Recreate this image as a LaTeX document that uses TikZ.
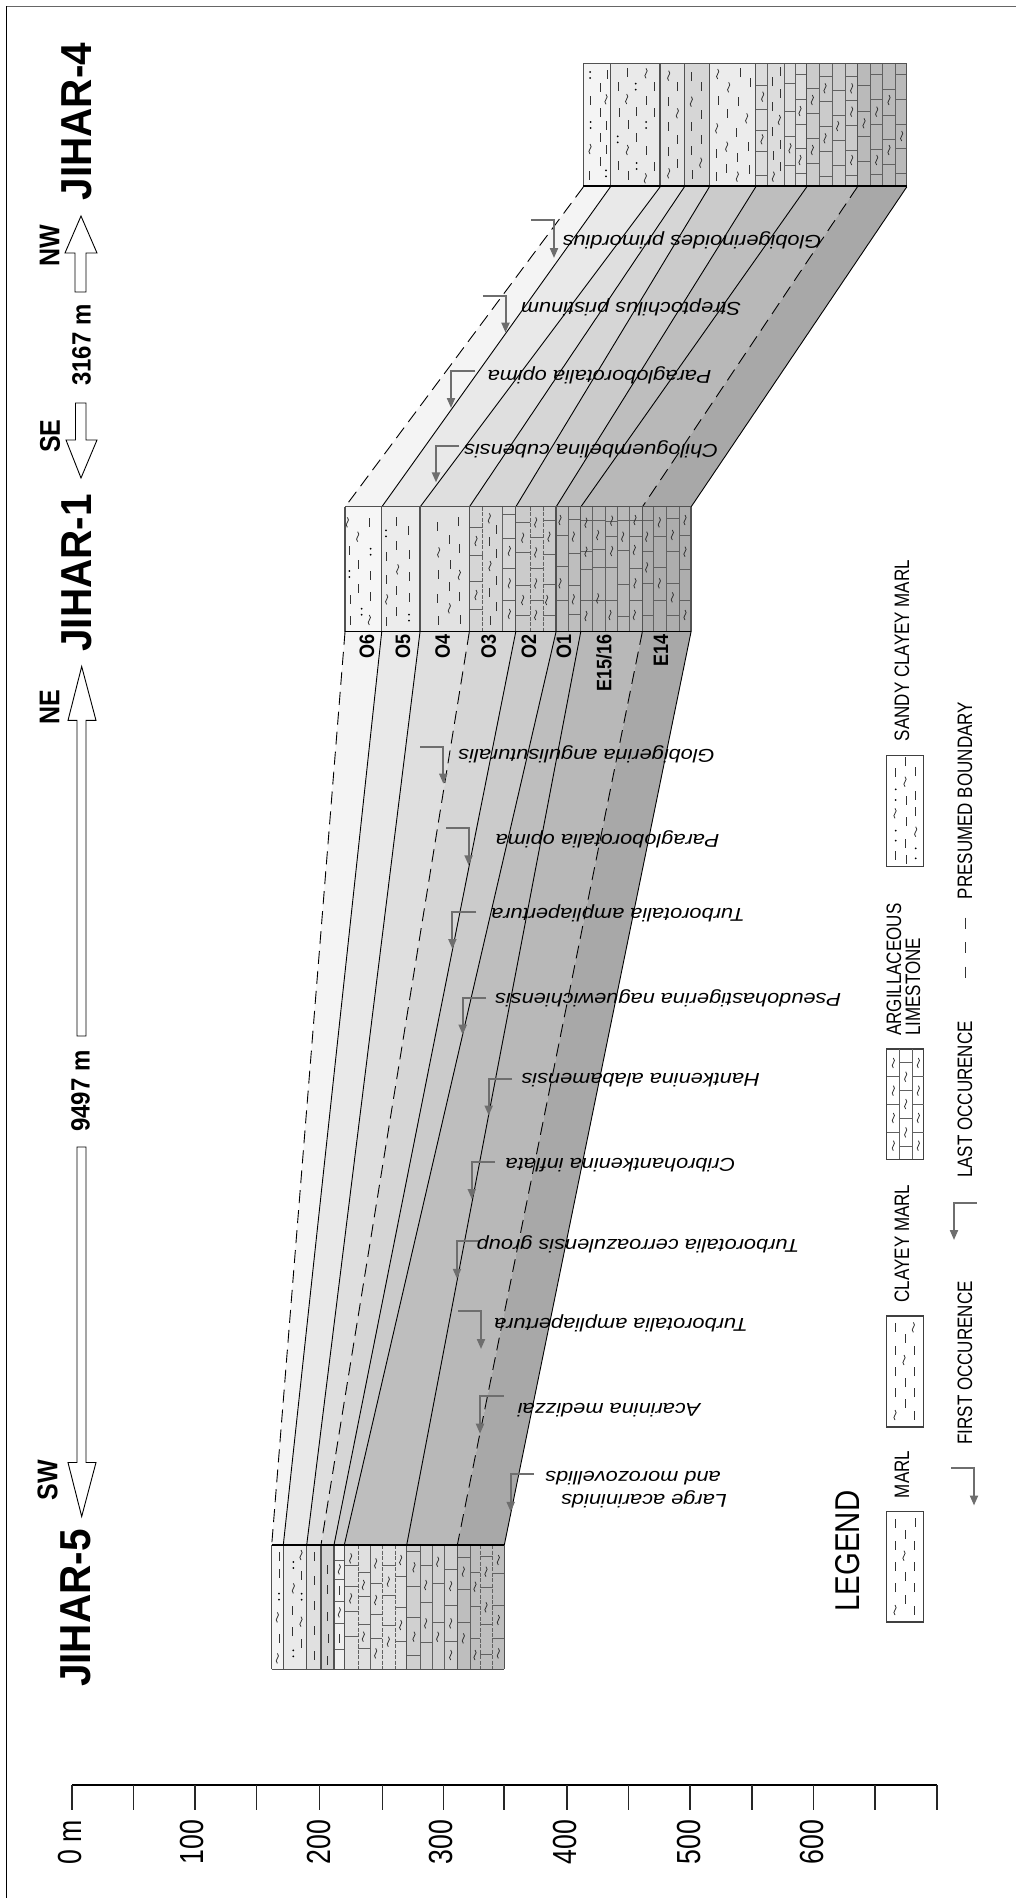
\documentclass[tikz,border=0pt]{standalone}
\usepackage{fontspec}
\setmainfont{Liberation Sans}
\usetikzlibrary{arrows.meta}
\definecolor{mk}{HTML}{6E6E6E}
\tikzset{
 lith/.style={line width=0.8pt,black!80},
 brk/.style={line width=1pt,black!62},
 colline/.style={line width=1.1pt,black!68},
 bnd/.style={line width=0.9pt,black},
 bndd/.style={line width=0.9pt,black,dash pattern=on 13pt off 7pt},
 mark line/.style={line width=2pt,mk,-{Triangle[length=10pt,width=8pt]}},
 blockarrow/.style={line width=0.9pt,draw=black,fill=white},
 station/.style={rotate=90,yscale=1.07,inner sep=0pt,font=\bfseries\fontsize{40.5}{42}\selectfont},
 dirlab/.style={rotate=90,yscale=1.14,inner sep=0pt,font=\bfseries\fontsize{25}{27}\selectfont},
 distlab/.style={rotate=90,yscale=1.1,inner sep=0pt,font=\bfseries\fontsize{24}{26}\selectfont},
 unitlab/.style={rotate=90,yscale=1.16,inner sep=0pt,anchor=east,font=\bfseries\fontsize{18}{20}\selectfont},
 scalelab/.style={rotate=90,yscale=1.25,inner sep=0pt,font=\fontsize{26.7}{28}\selectfont},
 leghead/.style={rotate=90,yscale=1.17,inner sep=0pt,font=\fontsize{29.4}{31}\selectfont},
 legtext/.style={rotate=90,yscale=1.23,inner sep=0pt,font=\fontsize{17}{18}\selectfont},
 species/.style={rotate=180,xscale=1.17,inner sep=0pt,font=\itshape\fontsize{18.6}{20}\selectfont},
}
\newcommand\lithD[1]{\foreach \x/\y in {#1}{\draw[lith] ([yshift=-4.5pt]\x,\y) -- ([yshift=4.5pt]\x,\y);}}
\newcommand\lithT[1]{\foreach \x/\y in {#1}{\draw[lith] ([yshift=-5pt]\x,\y) .. controls ([shift={(-4pt,-1.5pt)}]\x,\y) and ([shift={(4pt,1.5pt)}]\x,\y) .. ([yshift=5pt]\x,\y);}}
\newcommand\lithC[1]{\foreach \x/\y in {#1}{\fill[black] ([yshift=-3pt]\x,\y) circle (1pt) ([yshift=3pt]\x,\y) circle (1pt);}}
\newcommand\lithO[1]{\foreach \x/\y in {#1}{\fill[black] (\x,\y) circle (1pt);}}
\newcommand\lithB[3]{\foreach \y in {#3}{\draw[brk] (#1,\y) -- (#2,\y);}}
\newcommand\lithV[3]{\foreach \x in {#1}{\draw[brk] (\x,#2) -- (\x,#3);}}
\newcommand\lithVd[3]{\foreach \x in {#1}{\draw[brk,dash pattern=on 4pt off 1.5pt] (\x,#2) -- (\x,#3);}}
\begin{document}
\begin{tikzpicture}[x=1pt,y=-1pt]
\useasboundingbox (0,0) rectangle (1016,1898);
\fill[white] (0,0) rectangle (1016,1898);
% frame
\draw[line width=1pt,black!60] (6.5,6) -- (1016,6);
\draw[line width=1pt,black] (6.5,6) -- (6.5,1898);

% correlation bands
\foreach \a/\b/\c/\d/\g in {583.3/610.3/345/381.7/95.5,610.3/660/381.7/420/91.5,660/684.3/420/469.3/87.5,684.3/709.3/469.3/515.7/84,709.3/755.7/515.7/556/79.5,755.7/806.7/556/580.7/74.5,806.7/857.3/580.7/642.3/72,857.3/906.7/642.3/691/66}{
  \fill[white!\g!black] (\a,187) -- (\b,187) -- (\d,507) -- (\c,507) -- cycle;}
\foreach \a/\b/\c/\d/\g in {345/381.7/271.7/283.3/95.5,381.7/420/283.3/306.7/91.5,420/469.3/306.7/321/87.5,469.3/515.7/321/334/84,515.7/556/334/344.3/79.5,556/580.7/344.3/406.7/74.5,580.7/642.3/406.7/457.3/72,642.3/691/457.3/504.3/66}{
  \fill[white!\g!black] (\a,632) -- (\b,632) -- (\d,1545) -- (\c,1545) -- cycle;}
% band boundaries
\foreach \a/\c in {610.3/381.7,660/420,684.3/469.3,709.3/515.7,755.7/556,806.7/580.7,906.7/691}{\draw[bnd] (\a,187) -- (\c,507);}
\foreach \a/\c in {583.3/345,857.3/642.3}{\draw[bndd] (\a,187) -- (\c,507);}
\foreach \a/\c in {381.7/283.3,420/306.7,515.7/334,556/344.3,580.7/406.7,691/504.3}{\draw[bnd] (\a,632) -- (\c,1545);}
\foreach \a/\c in {345/271.7,469.3/321,642.3/457.3}{\draw[bndd] (\a,632) -- (\c,1545);}

% JIHAR-4 column
\begin{scope}[shift={(570,50)},x=0.33333pt,y=-0.33333pt]
\foreach \a/\b/\g in {40/121/F4F4F4,121/270/EAEAEA,270/343/E2E2E2,343/418/D6D6D6,418/557/ECECEC,557/710/DCDCDC,710/862/CBCBCB,862/1010/BABABA}{
  \definecolor{cc}{HTML}{\g}\fill[cc] (\a,40) rectangle (\b,408);}
\lithC{60/75,62/225,108/370}
\lithD{112/72,90/112,62/150,90/187,110/225,90/262,108/298,90/335,58/375}
\lithT{108/148,60/297}
\lithD{172/67,145/110,252/110,228/150,147/187,200/185,252/187,175/222,200/262,228/300,145/345,175/375,252/350}
\lithC{197/110,228/225,143/268,200/348}
\lithT{228/70,170/147,172/300,226/385}
\lithD{322/110,294/155,294/228,322/268,294/305,322/340}
\lithT{296/77,322/190,296/370}
\lithD{364/80,395/110,395/192,364/228,395/268,364/300,366/372}
\lithT{364/155,392/338}
\lithD{512/68,542/98,445/150,505/155,473/190,500/247,535/290,440/310,503/322,470/355,537/358,440/380}
\lithT{443/72,476/112,530/205,440/235,470/290,502/380}
\lithV{592,643,675,747,787,826,900,938,975}{40}{408}
\lithB{557}{592}{105,178,240,305,375}\lithT{578/140,576/268}
\lithD{630/65,608/95,632/130,608/170,608/245,630/282,610/315,632/350}\lithT{628/210,610/380}
\lithB{643}{675}{100,185,258,345}\lithT{660/295}
\lithB{675}{710}{72,148,222,295,370}\lithT{690/183,690/330}
\lithB{710}{747}{115,190,265,340}\lithT{727/150,727/300}
\lithB{747}{787}{80,155,230,305,378}\lithT{765/115,765/265}
\lithB{787}{826}{120,195,270,345}\lithT{803/228}
\lithB{826}{862}{78,150,225,300,375}\lithT{845/115,845/185,845/330}
\lithB{862}{900}{105,185,260,335}\lithT{882/220}
\lithB{900}{938}{72,148,222,298,372}\lithT{920/185,920/330}
\lithB{938}{975}{118,195,268,343}\lithT{957/150,957/300}
\lithB{975}{1010}{72,148,222,295,370}\lithT{995/258}
\foreach \x in {40,121,270,343,418,557,710,862,1010}{\draw[colline] (\x,40) -- (\x,408);}
\draw[colline] (40,40) -- (1010,40);
\draw[line width=1.2pt,black] (40,408) -- (1010,408);
\end{scope}

% JIHAR-1 column
\begin{scope}[shift={(330,490)},x=0.33333pt,y=-0.33333pt]
\foreach \a/\b/\g in {45/155/F6F6F6,155/270/ECECEC,270/418/E2E2E2,418/557/D6D6D6,557/678/CBCBCB,678/752/BEBEBE,752/937/B8B8B8,937/1083/ADADAD}{
  \definecolor{cc}{HTML}{\g}\fill[cc] (\a,50) rectangle (\b,425);}
\lithD{117/97,57/180,85/222,120/255,85/295,60/328,120/320,60/390}
\lithT{52/97,83/140,118/390}\lithC{122/185,58/252,95/365}
\lithD{198/95,235/122,198/165,170/200,237/192,237/258,200/300,237/322,200/365,170/395,168/267}
\lithC{168/130,237/383}\lithT{203/238,170/328}
\lithD{322/108,385/95,357/147,387/175,360/222,325/252,358/290,388/320,323/325,390/388,325/390}
\lithT{326/187,388/255,358/355}
\lithVd{458}{50}{425}\lithV{518}{50}{425}
\lithB{418}{458}{112,195,275,358}\lithT{438/153,438/315}
\lithD{500/117,478/155,500/190,500/270,478/307,500/350,480/390}\lithT{478/85,480/228}
\lithB{518}{557}{72,145,235,330}\lithT{538/183,538/280,538/372}
\lithVd{600,640}{50}{425}
\lithB{557}{600}{98,188,285,375}\lithT{578/143,578/330}
\lithB{600}{640}{142,235,330}\lithT{617/97,617/187,617/280,617/375}
\lithB{640}{678}{90,192,283,375}\lithT{657/140,650/330}
\lithV{715,787,826,863,898,970,1010,1047}{50}{425}
\lithB{678}{715}{135,230,330}\lithT{690/90,690/280}
\lithB{715}{752}{88,190,285,373}\lithT{730/140,730/328}
\lithB{752}{787}{92,185,238,332}\lithT{768/98,768/185,768/378}
\lithB{787}{826}{92,178,232,330}\lithT{803/135,803/325}
\lithB{826}{863}{95,140,232,330}\lithT{845/92,845/183,840/375}
\lithB{863}{898}{92,180,283,378}\lithT{878/140}
\lithB{898}{937}{92,140,235,330}\lithT{915/90,913/180,915/280,913/375}
\lithB{937}{970}{92,185,280,375}\lithT{950/140,950/232}
\lithB{970}{1010}{140,232,330}\lithT{988/97,988/280}
\lithB{1010}{1047}{85,185,280,375}\lithT{1027/135,1027/322}
\lithB{1047}{1083}{135,238,330}\lithT{1065/90,1065/185,1065/375}
\foreach \x in {45,155,270,418,557,678,752,937,1083}{\draw[colline] (\x,50) -- (\x,425);}
\draw[colline] (45,50) -- (1083,50);
\draw[line width=1.2pt,black] (45,425) -- (1083,425);
\end{scope}

% JIHAR-5 column
\begin{scope}[shift={(260,1530)},x=0.33333pt,y=-0.33333pt]
\foreach \a/\b/\g in {35/70/F5F5F5,70/140/EAEAEA,140/183/E0E0E0,183/222/D2D2D2,222/253/F0F0F0,253/440/E0E0E0,440/592/D0D0D0,592/733/BEBEBE}{
  \definecolor{cc}{HTML}{\g}\fill[cc] (\a,45) rectangle (\b,418);}
\lithD{57/78,57/130,57/325}\lithC{57/200}\lithT{52/262,52/385}
\lithD{97/240,97/305,125/135,125/340}\lithC{100/105,125/200,100/370}\lithT{123/75,100/175,123/275}
\lithD{162/80,162/150,162/225,162/300,162/375}
\lithD{203/118,203/178,203/258,205/325,203/390}
\lithB{222}{253}{90,147,213,280,358}\lithT{238/118,238/247}\lithD{238/180,238/325}
\lithVd{295,367,405}{45}{418}\lithV{330,482,516,554,630}{45}{418}\lithVd{660,697}{45}{418}
\lithB{253}{295}{105,168,245,318}\lithT{272/85,272/205}
\lithB{295}{330}{128,198,283,355}\lithT{310/165,310/320}
\lithB{330}{367}{160,253,325}\lithT{347/100,347/210,347/370}
\lithB{367}{405}{105,197,285}\lithT{385/155,385/335}
\lithB{405}{440}{140,232,335}\lithT{422/90,422/285}
\lithB{440}{482}{65,170,262,377}\lithT{462/112,462/320}
\lithB{482}{516}{105,218,338}\lithT{497/165,497/280}
\lithB{516}{554}{160,278}\lithT{533/95,533/320}
\lithB{554}{592}{117,225,335}\lithT{572/168,572/280,572/375}
\lithB{592}{630}{82,178,278}\lithT{610/125,610/325}
\lithB{630}{660}{127,230,325}\lithT{645/170,645/375}
\lithB{660}{697}{78,173,282,373}\lithT{678/125,678/232}
\lithB{697}{733}{130,225,325}\lithT{715/90,715/270,715/370}
\foreach \x in {35,70,140,183,222,253,440,592,733}{\draw[colline] (\x,45) -- (\x,418);}
\draw[line width=1.2pt,black] (35,45) -- (733,45);
\draw[colline] (35,418) -- (733,418);
\end{scope}

% unit labels
\foreach \n/\x/\t in {uO6/367/O6,uO5/403/O5,uO4/442.6/O4,uO3/488.7/O3,uO2/529/O2,uO1/564/O1,uE15/604/E15\slash 16,uE14/661/E14}{
  \node[unitlab] (\n) at (\x,634) {\t};}

% station titles
\node[station] (j4) at (77,121.5) {JIHAR-4};
\node[station] (j1) at (77,573) {JIHAR-1};
\node[station] (j5) at (76,1608) {JIHAR-5};
\node[dirlab] (nw) at (49.5,246) {NW};
\node[dirlab] (se) at (50,436) {SE};
\node[dirlab] (ne) at (49.5,707) {NE};
\node[dirlab] (sw) at (47.5,1480) {SW};
\node[distlab] (d1) at (81.5,345) {3167 m};
\node[distlab] (d2) at (80.5,1091) {9497 m};

% block arrows
\draw[blockarrow] (75,292) -- (75,253) -- (65,253) -- (81,216) -- (97,253) -- (86,253) -- (86,292) -- cycle;
\draw[blockarrow] (75.5,403) -- (75.5,440) -- (66,440) -- (81,478) -- (97,440) -- (86,440) -- (86,403) -- cycle;
\draw[blockarrow] (77,1036) -- (77,720.4) -- (68,720.4) -- (81.7,666.5) -- (96,720.4) -- (86,720.4) -- (86,1036) -- cycle;
\draw[blockarrow] (77,1147) -- (77,1462.5) -- (68,1462.5) -- (81.7,1516.5) -- (96,1462.5) -- (86,1462.5) -- (86,1147) -- cycle;

% range markers
\foreach \a/\b/\c/\d in {531.4/554/220.4/258,482.8/505.5/296/332.6,475/451/370.6/408,459/436/445.7/482.4,420/443.3/746.5/783.7,446/468.6/827.8/865.3,476.3/452.4/911.8/949,486/462.7/998/1034.7,512/488.7/1078.8/1115.5,495/471.8/1162/1199,479.6/457/1240.8/1278.8,458/481/1311/1349,503.6/480/1396/1433.7,534/510.7/1474/1511.8,976.7/954/1203/1240,951.4/974/1468/1505.5}{
  \draw[mark line] (\a,\c) -- (\b,\c) -- (\b,\d);}

% species labels
\node[species] (s1) at (692,240) {Globigerinoides primordius};
\node[species] (s2) at (631,307) {Streptochilus pristinum};
\node[species] (s3) at (599.5,375) {Paragloborotalia opima};
\node[species] (s4) at (591,449) {Chiloguembelina cubensis};
\node[species] (s5) at (586.5,754) {Globigerina angulisuturalis};
\node[species] (s6) at (607.5,839.5) {Paragloborotalia opima};
\node[species] (s7) at (618,913.5) {Turborotalia ampliapertura};
\node[species] (s8) at (668,998) {Pseudohastigerina naguewichiensis};
\node[species] (s9) at (640.6,1080) {Hantkenina alabamensis};
\node[species] (s10) at (620.5,1165) {Cribrohantkenina inflata};
\node[species] (s11) at (638,1244.5) {Turborotalia cerroazulensis group};
\node[species] (s12) at (621,1323) {Turborotalia ampliapertura};
\node[species] (s13) at (609,1410) {Acarinina medizzai};
\node[species] (s14) at (644,1499.5) {Large acarininids};
\node[species] (s15) at (633,1478) {and morozovellids};

% depth scale
\draw[line width=2pt,black] (72,1785) -- (937,1785);
\foreach \x in {72,133.5,195,256.6,319.5,382.4,443.3,504.2,567,628.7,690.2,751.8,813.4,875,937}{
  \draw[line width=1.5pt,black!85] (\x,1785) -- (\x,1810);}
\node[scalelab] (t0) at (70,1842) {0 m};
\node[scalelab] (t1) at (192,1842) {100};
\node[scalelab] (t2) at (319,1842) {200};
\node[scalelab] (t3) at (441,1842) {300};
\node[scalelab] (t4) at (565,1842) {400};
\node[scalelab] (t5) at (689,1842) {500};
\node[scalelab] (t6) at (812,1842) {600};

% legend
\node[leghead] (lg) at (848,1551) {LEGEND};
\foreach \y/\h in {755.5/111,1049/110.6,1316/111,1511.4/110.6}{
  \draw[line width=1.2pt,black!75,fill=white] (886.6,\y) rectangle (923.5,\y+\h);}
\begin{scope}[shift={(880,750)},x=0.33333pt,y=-0.33333pt]
\lithD{77/35,47/67,107/65,107/135,80/150,107/185,80/215,77/280,47/315,80/328}
\lithT{75/95,45/190,107/245}\lithO{47/118,47/150,47/242,47/272,107/295,107/325}
\end{scope}
\begin{scope}[shift={(880,1044)},x=0.33333pt,y=-0.33333pt]
\lithV{58,97}{15}{345}
\lithB{20}{58}{98,180,265}\lithT{40/57,40/140,40/222,40/305}
\lithB{58}{97}{55,140,222,308}\lithT{77/98,77/180,77/265}
\lithB{97}{132}{98,180,265}\lithT{115/57,115/140,115/222,115/305}
\end{scope}
\begin{scope}[shift={(880,1310)},x=0.33333pt,y=-0.33333pt]
\lithD{47/52,75/85,103/120,47/120,47/185,103/185,75/218,47/248,103/248,75/280,103/315}
\lithT{100/52,72/150,45/315}
\end{scope}
\begin{scope}[shift={(880,1505)},x=0.33333pt,y=-0.33333pt]
\lithD{47/55,105/52,75/88,47/120,103/120,47/185,103/185,75/215,47/248,103/248,75/282,103/315}
\lithT{72/152,45/315}
\end{scope}
\node[legtext] (l1) at (902,1474.5) {MARL};
\node[legtext] (l2) at (902,1243.5) {CLAYEY MARL};
\node[legtext,anchor=west] (l3) at (894,1036) {ARGILLACEOUS};
\node[legtext,anchor=west] (l4) at (913,1036) {LIMESTONE};
\node[legtext] (l5) at (902,650.5) {SANDY CLAYEY MARL};
\node[legtext] (l6) at (965,1363) {FIRST OCCURENCE};
\node[legtext] (l7) at (965,1099.5) {LAST OCCURENCE};
\node[legtext] (l8) at (965,800.5) {PRESUMED BOUNDARY};
\draw[line width=0.9pt,black!80,dash pattern=on 11pt off 13.5pt] (965.7,917.5) -- (965.7,978);
\end{tikzpicture}
\end{document}
